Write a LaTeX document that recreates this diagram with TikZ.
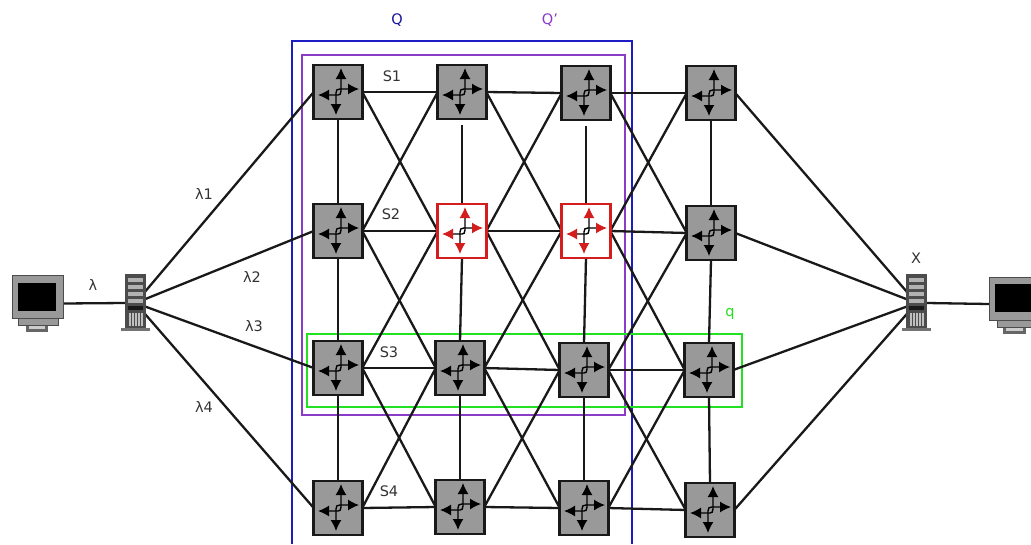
\documentclass[tikz,border=0pt]{standalone}
\usepackage{fontspec}
\setmainfont{DejaVu Sans}
\usetikzlibrary{arrows.meta,backgrounds}
\definecolor{qblue}{HTML}{1C1CC4}
\definecolor{qpurple}{HTML}{8A3CC8}
\definecolor{qgreen}{HTML}{22E022}
\definecolor{qred}{HTML}{D41E1E}
\definecolor{swgray}{HTML}{999999}
\definecolor{txt}{HTML}{333333}
\tikzset{
  x=1pt,y=-1pt,
  switchbox/.style={draw=black!90,fill=swgray,line width=2.8pt,minimum width=48.5pt,minimum height=54pt,inner sep=0,outer sep=0},
  redbox/.style={draw=qred,fill=white,line width=2.8pt,minimum width=48.5pt,minimum height=54pt,inner sep=0,outer sep=0},
  link/.style={draw=black!90,line width=2.3pt},
  frame/.style={line width=2.2pt},
  lbl/.style={text=txt,font=\fontsize{14.5}{16}\selectfont,inner sep=0},
  anchorbox/.style={inner sep=0,outer sep=0},
  pics/router/.style={code={
    \draw[line width=1.4pt,{Latex[length=11pt,width=11pt,color=#1]}-{Latex[length=11pt,width=11pt,color=#1]}] (-2,23)--(-2,1) .. controls (-2,-2) and (-1,-3) .. (2,-3) -- (21,-3);
    \draw[line width=1.4pt,{Latex[length=11pt,width=11pt,color=#1]}-{Latex[length=11pt,width=11pt,color=#1]}] (-20,3)--(0,3) .. controls (2,3) and (3,2) .. (3,-1) -- (3,-24);
  }},
  pics/router/.default=black,
  pics/tower/.style={code={
    \fill[black!70] (-10.5,-29) rectangle (10.5,25);
    \fill[black!55] (-14.5,25) rectangle (14.5,28);
    \foreach \yy in {-25,-18,-11,-4} {\fill[black!30] (-7.5,\yy) rectangle (7.5,{\yy+4});}
    \fill[black!90] (-7.5,3) rectangle (7.5,7);
    \foreach \xx in {-7,-4,-1,2,5} {\fill[black!25] (\xx,10) rectangle ({\xx+2},23);}
  }},
}
\begin{document}
\begin{tikzpicture}
\useasboundingbox (0,0) rectangle (1031,544);

% switches
\foreach \nm/\px/\py in {
  n11/338/92,n12/462/92,n13/586/93,n14/711/93,
  n21/338/231,n24/711/233,
  n31/338/368,n32/460/368,n33/584/370,n34/709/370,
  n41/338/508,n42/460/507,n43/584/508,n44/710/510}{
  \node[switchbox] (\nm) at (\px,\py) {};
  \pic at (\px,\py) {router};
}
\foreach \nm/\px/\py in {n22/462/231,n23/586/231}{
  \node[redbox] (\nm) at (\px,\py) {};
  \pic at (\px,\py) {router=qred};
}

% hosts
\node[anchorbox,minimum width=51pt,minimum height=57pt] (monL) at (37.5,303.5) {};
\node[anchorbox,minimum width=21pt,minimum height=57pt] (srvL) at (135.5,303) {};
\node[anchorbox,minimum width=21pt,minimum height=57pt] (srvR) at (916.5,303) {};
\node[anchorbox,minimum size=0pt] (monR) at (989,304) {};

\pic at (135.5,303) {tower};
\pic at (916.5,303) {tower};

% left monitor
\fill[black!60] (26,325) rectangle (48,332);
\fill[black!20] (29,325) rectangle (45,329);
\fill[swgray,draw=black!70,line width=1pt] (18,318) rectangle (58,325);
\fill[swgray,draw=black!70,line width=1pt] (12,275.5) rectangle (63,318);
\fill[black] (17.5,283) rectangle (56,311);
% right monitor
\fill[black!60] (1003,327) rectangle (1026,334);
\fill[black!20] (1006,327) rectangle (1023,331);
\fill[swgray] (997,320) rectangle (1031,327);
\fill[swgray] (989,277) rectangle (1031,320);
\draw[black!70,line width=1pt] (1031,277)--(989,277)--(989,320)--(1031,320);
\draw[black!70,line width=1pt] (1031,327)--(997,327)--(997,320);
\fill[black] (995,284) rectangle (1031,312);

\begin{pgfonlayer}{background}
  \fill[white] (0,0) rectangle (1031,544);
  % frames
  \draw[frame,qblue] (292,544)--(292,41)--(632,41)--(632,544);
  \draw[frame,qpurple] (302,55) rectangle (625,415);
  \draw[frame,qgreen] (307,334) rectangle (742,407);
  % rows
  \foreach \r in {1,2,3,4}{
    \draw[link] (n\r1.east)--(n\r2.west);
    \draw[link] (n\r2.east)--(n\r3.west);
    \draw[link] (n\r3.east)--(n\r4.west);
  }
  % columns
  \foreach \c in {1,2,3,4}{
    \draw[link] (n2\c.south)--(n3\c.north);
    \draw[link] (n3\c.south)--(n4\c.north);
  }
  \draw[link] (n11.south)--(n21.north);
  \draw[link,shorten <=6pt] (n12.south)--(n22.north);
  \draw[link,shorten <=6pt] (n13.south)--(n23.north);
  \draw[link] (n14.south)--(n24.north);
  % crossings
  \foreach \a/\b in {1/2,2/3,3/4}{
    \foreach \u/\v in {1/2,2/3,3/4}{
      \draw[link] (n\u\a.east)--(n\v\b.west);
      \draw[link] (n\v\a.east)--(n\u\b.west);
    }
  }
  % hosts
  \draw[link] (monL.east)--(srvL.west);
  \draw[link] (srvR.east)--(monR);
  \foreach \r in {1,2,3,4}{
    \draw[link] (srvL.center)--(n\r1.west);
    \draw[link] (n\r4.east)--(srvR.center);
  }
\end{pgfonlayer}

% labels
\node[lbl,text=qblue!80!black] (lq) at (397,20) {Q};
\node[lbl,text=qpurple] (lqp) at (550,20) {Q'};
\node[lbl,text=qgreen] (lqs) at (730,314) {q};
\node[lbl] (lx) at (916,258) {X};
\node[lbl] (ll) at (93,285) {λ};
\node[lbl] (ll1) at (204,194) {λ1};
\node[lbl] (ll2) at (252,277) {λ2};
\node[lbl] (ll3) at (254,326) {λ3};
\node[lbl] (ll4) at (204,407) {λ4};
\node[lbl] (s1) at (392,76) {S1};
\node[lbl] (s2) at (391,214) {S2};
\node[lbl] (s3) at (389,352) {S3};
\node[lbl] (s4) at (389,491) {S4};
\end{tikzpicture}
\end{document}
